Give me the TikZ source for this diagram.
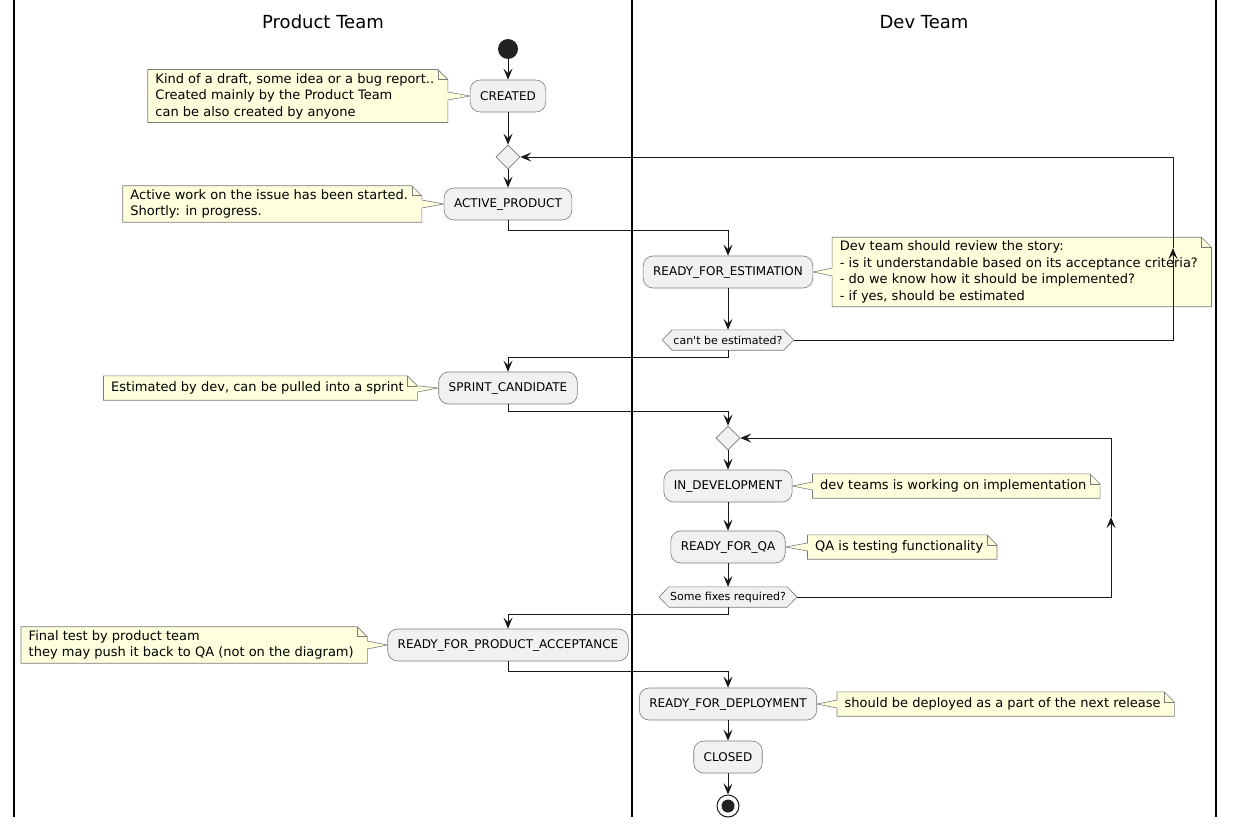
\documentclass[tikz,border=0pt]{standalone}
\usepackage{fontspec}
\setmainfont{DejaVu Sans}[Ligatures=TeXOff]
\usetikzlibrary{arrows.meta,shapes.geometric,positioning,backgrounds,calc}
\definecolor{actfill}{HTML}{F1F1F1}
\definecolor{notefill}{HTML}{FEFFDD}
\definecolor{edgegray}{HTML}{7A7A7A}
\definecolor{startfill}{HTML}{222222}
\definecolor{linecol}{HTML}{181818}
% note to the left of an activity: #1 note node, #2 activity node, #3 top of pointer base
\newcommand{\myNoteL}[3]{%
  \begin{pgfonlayer}{background}
  \path[noteshape] (#1.north west) -- ([xshift=-4pt]#1.north east) -- ([xshift=6pt,yshift=-10pt]#1.north east)
     -- #3 -- (#2.west) -- ([xshift=6pt,yshift=-4pt]#1.east) -- ([xshift=6pt]#1.south east) -- (#1.south west) -- cycle;
  \path[noteshape,fill=none] ([xshift=-4pt]#1.north east) -- ([xshift=-4pt,yshift=-10pt]#1.north east) -- ([xshift=6pt,yshift=-10pt]#1.north east);
  \end{pgfonlayer}}
% note to the right of an activity
\newcommand{\myNoteR}[2]{%
  \begin{pgfonlayer}{background}
  \path[noteshape] (#1.north west) -- ([xshift=-4pt]#1.north east) -- ([xshift=6pt,yshift=-10pt]#1.north east)
     -- ([xshift=6pt]#1.south east) -- (#1.south west) -- ([yshift=-4pt]#1.west) -- (#2.east) -- ([yshift=4pt]#1.west) -- cycle;
  \path[noteshape,fill=none] ([xshift=-4pt]#1.north east) -- ([xshift=-4pt,yshift=-10pt]#1.north east) -- ([xshift=6pt,yshift=-10pt]#1.north east);
  \end{pgfonlayer}}
\newcommand{\myHex}[1]{%
  \begin{pgfonlayer}{background}
  \path[hexshape] (#1.west) -- ([xshift=10pt]#1.north west) -- ([xshift=-10pt]#1.north east) -- (#1.east)
     -- ([xshift=-10pt]#1.south east) -- ([xshift=10pt]#1.south west) -- cycle;
  \end{pgfonlayer}}
\begin{document}
\begin{tikzpicture}[x=1pt,y=-1pt,
  act/.style={draw=edgegray, fill=actfill, rounded corners=10pt, minimum height=32pt, inner xsep=10pt, inner ysep=0pt, font=\fontsize{12}{14}\selectfont, line width=0.6pt},
  notetext/.style={inner xsep=7.5pt, inner ysep=3.5pt, minimum height=24pt, align=left, font=\fontsize{13}{16.5}\selectfont},
  noteshape/.style={draw=edgegray, fill=notefill, line width=0.6pt},
  hexshape/.style={draw=edgegray, fill=actfill, line width=0.6pt},
  hextext/.style={inner xsep=11pt, inner ysep=0pt, minimum height=20pt, font=\fontsize{11}{13}\selectfont},
  dia/.style={diamond, draw=edgegray, fill=actfill, minimum width=24pt, minimum height=24pt, inner sep=0pt, line width=0.6pt},
  arr/.style={draw=linecol, line width=1pt, -{Stealth[length=11pt,width=9pt,inset=4.5pt]}},
  lane/.style={draw=black, line width=1.5pt},
  title/.style={font=\fontsize{18}{21}\selectfont}
]
\useasboundingbox (0,0) rectangle (1236,827);
% lanes
\draw[lane] (14,0) -- (14,817);
\draw[lane] (632,0) -- (632,817);
\draw[lane] (1216,0) -- (1216,817);
\node[title] (t1) at (323,22) {Product Team};
\node[title] (t2) at (924,22) {Dev Team};

% nodes
\node[circle, fill=startfill, minimum size=20pt, inner sep=0pt] (start) at (508,49) {};
\node[act] (created) at (508,96) {CREATED};
\node[dia] (d1) at (508,157) {};
\node[act] (active) at (508,204) {ACTIVE\_PRODUCT};
\node[act] (rfe) at (728,272) {READY\_FOR\_ESTIMATION};
\node[hextext] (hex1) at (728,340) {can't be estimated?};
\node[act] (sprint) at (508,388) {SPRINT\_CANDIDATE};
\node[dia] (d2) at (728,438) {};
\node[act] (indev) at (728,486) {IN\_DEVELOPMENT};
\node[act] (rfqa) at (728,547) {READY\_FOR\_QA};
\node[hextext] (hex2) at (728,597) {Some fixes required?};
\node[act] (rfpa) at (508,645) {READY\_FOR\_PRODUCT\_ACCEPTANCE};
\node[act] (rfd) at (728,704) {READY\_FOR\_DEPLOYMENT};
\node[act] (closed) at (728,757) {CLOSED};
\node[circle, draw=linecol, line width=1pt, minimum size=22pt, inner sep=0pt] (end) at (728,806) {};
\fill[startfill] (end.center) circle (6.5pt);
\myHex{hex1}
\myHex{hex2}

% notes
\node[notetext, left=28pt of created] (n1) {Kind of a draft, some idea or a bug report..\\Created mainly by the Product Team\\can be also created by anyone};
\myNoteL{n1}{created}{([xshift=6pt,yshift=4pt]n1.east)}
\node[notetext, left=28pt of active] (n2) {Active work on the issue has been started.\\Shortly: in progress.};
\myNoteL{n2}{active}{([xshift=6pt,yshift=4pt]n2.east)}
\node[notetext, right=19pt of rfe] (n3) {Dev team should review the story:\\- is it understandable based on its acceptance criteria?\\- do we know how it should be implemented?\\- if yes, should be estimated};
\myNoteR{n3}{rfe}
\node[notetext, left=27pt of sprint] (n4) {Estimated by dev, can be pulled into a sprint};
\myNoteL{n4}{sprint}{([xshift=6pt,yshift=-10pt]n4.north east)}
\node[notetext, right=20pt of indev] (n5) {dev teams is working on implementation};
\myNoteR{n5}{indev}
\node[notetext, right=22pt of rfqa] (n6) {QA is testing functionality};
\myNoteR{n6}{rfqa}
\node[notetext, left=26pt of rfpa] (n7) {Final test by product team\\they may push it back to QA (not on the diagram)};
\myNoteL{n7}{rfpa}{([xshift=6pt,yshift=4pt]n7.east)}
\node[notetext, right=20pt of rfd] (n8) {should be deployed as a part of the next release};
\myNoteR{n8}{rfd}

% loop-back helper points
\coordinate (l1) at (1173,248);
\coordinate (l2) at (1111,517);

% connectors
\draw[arr] (start) -- (created);
\draw[arr] (created) -- (d1);
\draw[arr] (d1) -- (active);
\draw[arr] (active.south) -- ++(0,10) -| (rfe.north);
\draw[arr] (rfe) -- (hex1.north);
\draw[arr] (hex1.east) -| (l1);
\draw[arr] (l1) |- (d1.east);
\draw[arr] (hex1.south) -- ++(0,7) -| (sprint.north);
\draw[arr] (sprint.south) -- ++(0,7) -| (d2.north);
\draw[arr] (d2) -- (indev);
\draw[arr] (indev) -- (rfqa);
\draw[arr] (rfqa) -- (hex2.north);
\draw[arr] (hex2.east) -| (l2);
\draw[arr] (l2) |- (d2.east);
\draw[arr] (hex2.south) -- ++(0,7) -| (rfpa.north);
\draw[arr] (rfpa.south) -- ++(0,10) -| (rfd.north);
\draw[arr] (rfd) -- (closed);
\draw[arr] (closed) -- (end);
\end{tikzpicture}
\end{document}
